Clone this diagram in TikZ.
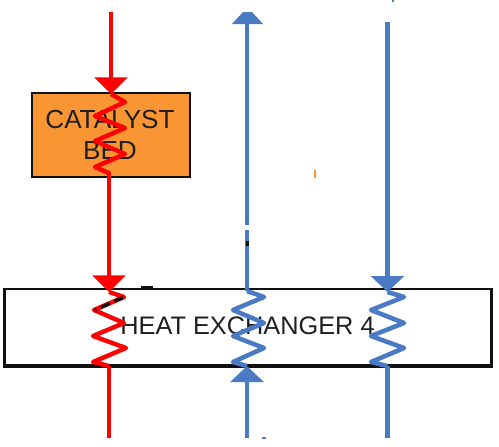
\documentclass[tikz,border=0pt]{standalone}
\usepackage{fontspec}
\setmainfont{Liberation Sans}
\usetikzlibrary{arrows.meta}
\definecolor{hotred}{HTML}{FF0000}
\definecolor{coldblue}{HTML}{4A7AC4}
\definecolor{bedorange}{HTML}{F99533}
\definecolor{inkblack}{HTML}{111111}
\tikzset{
  px/.style={x=0.75pt,y=-0.75pt},
  unit/.style={draw=inkblack,line width=1.3pt,inner sep=0pt,outer sep=0pt},
  redline/.style={draw=hotred,line width=3pt},
  blueline/.style={draw=coldblue,line width=3.2pt},
  redzig/.style={draw=hotred,line width=3.3pt,line join=round},
  bluezig/.style={draw=coldblue,line width=3.4pt,line join=round},
  redhead/.style={redline,-{Triangle[length=12.5pt,width=24.5pt,fill=hotred]}},
  bluehead/.style={blueline,-{Triangle[length=12pt,width=24.5pt,fill=coldblue]}},
  label/.style={font=\fontsize{19.6pt}{23pt}\selectfont,text=black!88,align=center,inner sep=0pt}
}
\begin{document}
\begin{tikzpicture}[px]
\useasboundingbox (0,0) rectangle (499,446);
% units
\node[unit,fill=bedorange,minimum width=118.5pt,minimum height=63pt] (bed) at (111,135) {};
\draw[draw=inkblack,line width=2.2pt] (bed.north east) -- (bed.south east) -- (bed.south west);
\node[unit,fill=white,minimum width=365.5pt,minimum height=57.7pt] (hx) at (248,327.5) {};
\draw[draw=inkblack,line width=2.6pt] (hx.north west) -- (hx.south west) -- (hx.south east) -- (hx.north east);
\node[label] (bedtext) at (110,134.5) {CATALYST\\[0.3pt]BED};
\node[label,font=\fontsize{19pt}{23pt}\selectfont] (hxtext) at (247.5,326) {HEAT EXCHANGER 4};
% named ends
\coordinate (r0) at (111,12);
\coordinate (r1) at (111,94);
\coordinate (r2) at (109,175);
\coordinate (r3) at (109,292);
\coordinate (r4) at (109,366);
\coordinate (r5) at (109,438);
\coordinate (a0) at (247,22);
\coordinate (a1) at (247,225);
\coordinate (a2) at (247,230);
\coordinate (a3) at (247,291);
\coordinate (a4) at (247,366);
\coordinate (a5) at (247,438);
\coordinate (b0) at (387.5,22);
\coordinate (b1) at (387.5,292);
\coordinate (b2) at (387.5,366);
\coordinate (b3) at (387.5,438);
% red stream
\draw[redhead] (r0) -- (r1);
\draw[redzig] (r1) -- (125,102) -- (95,116) -- (125,128) -- (95,141) -- (125,154) -- (95,167) -- (109,173) -- (r2);
\draw[redhead] (r2) -- (r3);
\draw[redzig] (r3) -- (124,297) -- (94,310) -- (124,323) -- (93,336) -- (126,348) -- (93,362) -- (r4);
\draw[draw=inkblack,line width=2.6pt,dash pattern=on 7pt off 4pt] (123,297.5) -- (95,310);
\draw[redline] (r4) -- (r5);
% left blue stream
\draw[blueline] (a0) -- (a1);
\draw[blueline] (a2) -- (a3);
\fill[coldblue] (232,24) -- (243,12) -- (252,12) -- (263,24) -- cycle;
\draw[bluezig] (a3) -- (264,297) -- (233,310) -- (264,323) -- (233,336) -- (264,348) -- (233,362) -- (a4);
\draw[bluehead] (a5) -- (a4);
% right blue stream
\draw[bluehead] (b0) -- (b1);
\draw[bluezig] (b1) -- (404,297) -- (371,310) -- (404,323) -- (371,336) -- (404,348) -- (371,362) -- (b2);
\draw[blueline] (b2) -- (b3);
% small specks
\fill[inkblack] (245.5,240.5) rectangle (249,245.5);
\fill[inkblack] (141,286) rectangle (153,288.5);
\fill[coldblue] (262,436.5) rectangle (266,438.5);
\fill[coldblue] (392,0) rectangle (394,2);
\fill[bedorange] (313.5,170) rectangle (315.5,178);
\end{tikzpicture}
\end{document}
